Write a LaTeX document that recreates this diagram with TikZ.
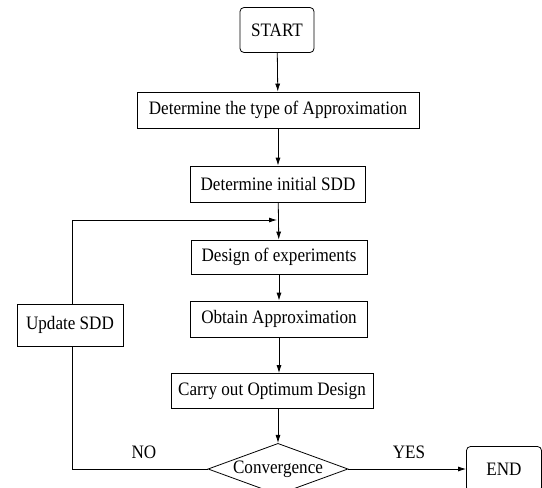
\documentclass[tikz,border=0pt]{standalone}
\usepackage{fontspec}
\setmainfont{Liberation Serif}[FakeStretch=0.9]
\usetikzlibrary{shapes.geometric,arrows.meta}
\begin{document}
\begin{tikzpicture}[x=1pt,y=-1pt,
  every node/.style={font=\fontsize{19}{21}\selectfont},
  box/.style={draw, line width=0.8pt, inner sep=0pt, minimum height=36pt},
  rbox/.style={box, rounded corners=4pt},
  flow/.style={draw, line width=0.8pt, -{Latex[length=8pt,width=5pt]}},
  link/.style={draw, line width=0.8pt},
  lbl/.style={inner sep=0pt}]
\useasboundingbox (0,0) rectangle (542,488);
\node[rbox, minimum width=74pt, minimum height=45pt] (start) at (277,30) {START};
\node[box, minimum width=282pt] (type) at (278,110) {Determine the type of Approximation};
\node[box, minimum width=175pt] (init) at (278,184) {Determine initial SDD};
\node[box, minimum width=176pt, minimum height=34pt] (doe) at (279,257) {Design of experiments};
\node[box, minimum width=177pt] (obt) at (279,319) {Obtain Approximation};
\node[box, minimum width=106pt, minimum height=42pt] (upd) at (70,325) {Update SDD};
\node[box, minimum width=202pt, minimum height=35pt] (opt) at (272,391) {Carry out Optimum Design};
\node[draw, line width=0.8pt, diamond, aspect=2.6, inner sep=0pt, minimum width=140pt, minimum height=50pt] (conv) at (278,469) {Convergence};
\node[rbox, minimum width=75pt, minimum height=45pt] (end) at (504,469) {END};
\node[lbl] (no) at (144,452) {NO};
\node[lbl] (yes) at (409,452) {YES};
\coordinate (fb) at (277,220);
\coordinate (lb) at (72,469);
\coordinate (lt) at (72,220);
\draw[flow] (start) -- (type);
\draw[flow] (type) -- (init);
\draw[flow] (init) -- (doe);
\draw[flow] (doe) -- (obt);
\draw[flow] (obt.south) -- (obt.south |- opt.north);
\draw[flow] (opt.south -| conv.north) -- (conv.north);
\draw[flow] (conv.east) -- (end.west);
\draw[link] (conv.west) -- (lb) -- (upd.south -| lb);
\draw[flow] (upd.north -| lt) -- (lt) -- (fb);
\end{tikzpicture}
\end{document}
